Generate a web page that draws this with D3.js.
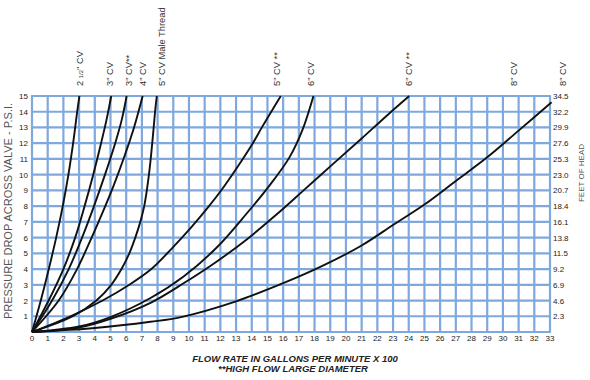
<!DOCTYPE html>
<html>
<head>
<meta charset="utf-8">
<script src="https://cdn.jsdelivr.net/npm/d3@7"></script>
<style>
  body { margin: 0; background: #fff; }
  text { font-family: "Liberation Sans", Arial, sans-serif; fill: #222; }
</style>
</head>
<body>
<div id="chart"></div>
<script>
// flow (gpm x 100) and pressure drop (psi)
var flowTicks = d3.range(0, 34)
var psiTicks = d3.range(1, 16)
var headTicks = ["2.3", "4.6", "6.9", "9.2", "11.5", "13.8", "16.1", "18.4", "20.7", "23.0", "25.3", "27.6", "29.9", "32.2", "34.5"]

var cv25 = [[0,0],[0.56,2],[1.07,4],[1.54,6],[1.96,8],[2.32,10],[2.62,12],[2.88,14],[3.02,15]]
var cv3 = [[0,0],[1.06,2],[2.0,4],[2.75,6],[3.35,8],[3.9,10],[4.4,12],[4.75,13.5],[5.05,15]]
var cv3hf = [[0,0],[1.28,2],[2.34,4],[3.19,6],[3.95,8],[4.65,10],[5.3,12],[5.72,13.5],[6.03,15]]
var cv4 = [[0,0],[1.7,2],[2.87,4],[3.8,6],[4.5,7.6],[5.2,9.3],[5.9,11.2],[6.5,13],[7.05,15]]
var cv5mt = [[0,0],[2.6,1],[4.1,2],[5.05,3],[5.7,4],[6.2,5],[6.58,6],[6.9,7],[7.15,8],[7.45,10],[7.66,12],[7.84,14],[7.95,15]]
var cv5hf = [[0,0],[2.45,1],[4.5,2],[6.2,3],[7.6,4],[8.9,5.3],[10.1,6.6],[11.2,7.9],[12.2,9.2],[13.1,10.5],[13.95,11.8],[14.7,13.1],[15.3,14.1],[15.85,15]]
var cv6 = [[0,0],[3,0.35],[5,0.95],[7.55,2.16],[9.68,3.54],[11.8,5.4],[13.65,7.5],[15.2,9.4],[16.4,11.1],[17.25,12.9],[17.93,15]]
var cv6hf = [[0,0],[3,0.28],[5,0.83],[7.55,1.85],[9.68,3.11],[11.8,4.5],[13.7,5.9],[15.5,7.4],[17.3,9.0],[19.2,10.7],[21,12.3],[22.6,13.75],[24.03,15]]
var cv8 = [[0,0],[4,0.25],[7.55,0.65],[9.5,0.95],[13,1.95],[16,3.1],[18.5,4.2],[21,5.5],[23,6.8],[25,8.1],[27,9.6],[29,11.1],[31,12.8],[33.1,14.6]]

var series = [cv25, cv3, cv3hf, cv4, cv5mt, cv5hf, cv6, cv6hf, cv8]

// labels across the top, placed at the flow value where they sit
var topLabels = [
  {x: 3.05, t: ["2 ", "1/2", "\" CV"]},
  {x: 5.0, t: ["3\" CV"]},
  {x: 6.15, t: ["3\" CV**"]},
  {x: 7.1, t: ["4\" CV"]},
  {x: 8.3, t: ["5\" CV Male Thread"]},
  {x: 15.6, t: ["5\" CV **"]},
  {x: 17.8, t: ["6\" CV"]},
  {x: 24.0, t: ["6\" CV **"]},
  {x: 30.7, t: ["8\" CV"]},
  {x: 33.8, t: ["8\" CV"]}
]

var W = 590, H = 380
var mLeft = 32, mRight = 550, mTop = 96, mBottom = 332

var svg = d3.select("#chart").append("svg").attr("width", W).attr("height", H)

var xs = d3.scaleLinear().domain([0, 33]).range([mLeft, mRight])
var ys = d3.scaleLinear().domain([0, 15]).range([mBottom, mTop])

var gridColor = "#7ea8de"

// grid
svg.append("g")
  .selectAll("line")
  .data(flowTicks)
  .enter()
  .append("line")
  .attr("x1", d => xs(d)).attr("x2", d => xs(d))
  .attr("y1", ys(0)).attr("y2", ys(15))
  .attr("stroke", gridColor)
  .attr("stroke-width", 2.2)

svg.append("g")
  .selectAll("line")
  .data([0].concat(psiTicks))
  .enter()
  .append("line")
  .attr("y1", d => ys(d)).attr("y2", d => ys(d))
  .attr("x1", xs(0) - 1).attr("x2", xs(33) + 1)
  .attr("stroke", gridColor)
  .attr("stroke-width", 2.2)

// bottom tick labels
svg.append("g")
  .selectAll("text")
  .data(flowTicks)
  .enter()
  .append("text")
  .attr("x", d => xs(d))
  .attr("y", mBottom + 9)
  .attr("text-anchor", "middle")
  .attr("font-size", 8)
  .text(d => d)

// left tick labels
svg.append("g")
  .selectAll("text")
  .data(psiTicks)
  .enter()
  .append("text")
  .attr("x", mLeft - 4)
  .attr("y", d => ys(d) + 3)
  .attr("text-anchor", "end")
  .attr("font-size", 8)
  .text(d => d)

// right tick labels (feet of head)
svg.append("g")
  .selectAll("text")
  .data(headTicks)
  .enter()
  .append("text")
  .attr("x", mRight + 3)
  .attr("y", (d, i) => ys(psiTicks[i]) + 3)
  .attr("font-size", 8)
  .text(d => d)

// axis titles
svg.append("text")
  .attr("transform", "translate(12," + 211 + ") rotate(-90)")
  .attr("text-anchor", "middle")
  .attr("font-size", 11)
  .style("fill", "#555")
  .text("PRESSURE DROP ACROSS VALVE - P.S.I.")

svg.append("text")
  .attr("transform", "translate(584,173) rotate(-90)")
  .attr("text-anchor", "middle")
  .attr("font-size", 8)
  .style("fill", "#555")
  .text("FEET OF HEAD")

svg.append("text")
  .attr("x", 295).attr("y", 362)
  .attr("text-anchor", "middle")
  .attr("font-size", 9.5)
  .attr("font-style", "italic")
  .attr("font-weight", "bold")
  .text("FLOW RATE IN GALLONS PER MINUTE X 100")

svg.append("text")
  .attr("x", 293).attr("y", 372)
  .attr("text-anchor", "middle")
  .attr("font-size", 9.5)
  .attr("font-style", "italic")
  .attr("font-weight", "bold")
  .text("**HIGH FLOW LARGE DIAMETER")

// top curve labels
var tl = svg.append("g")
  .selectAll("text")
  .data(topLabels)
  .enter()
  .append("text")
  .attr("transform", d => "translate(" + (xs(d.x) + 3) + ",86) rotate(-90)")
  .attr("font-size", 9.3)
  .style("fill", "#333")
tl.each(function (d) {
  var el = d3.select(this)
  d.t.forEach(function (s, i) {
    var sp = el.append("tspan").text(s)
    if (s == "1/2") sp.attr("font-size", 6)
  })
})

// curves
var line = d3.line()
  .x(d => xs(d[0]))
  .y(d => ys(d[1]))
  .curve(d3.curveCatmullRom.alpha(0.5))

svg.append("g")
  .selectAll("path")
  .data(series)
  .enter()
  .append("path")
  .attr("d", line)
  .attr("fill", "none")
  .attr("stroke", "#111")
  .attr("stroke-width", 1.9)
</script>
</body>
</html>
